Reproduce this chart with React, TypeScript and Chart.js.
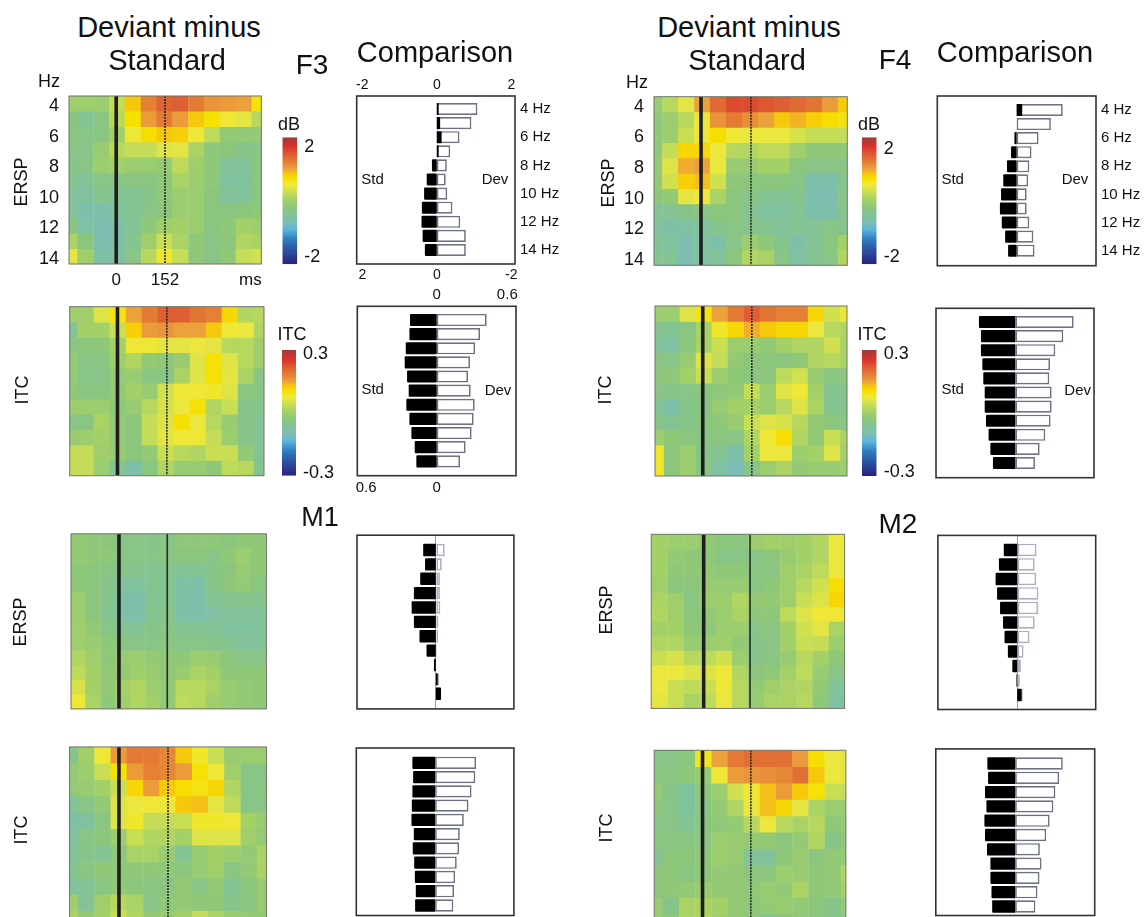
import React, { useEffect, useRef } from "react";
import { Chart, registerables } from "chart.js";

Chart.register(...registerables);

// ---------- colour scale: position on the bar (-100 bottom .. 100 top) and colour ----------
const scalePositions = [100, 85, 72, 60, 50, 42, 35, 25, 12, 2, -10, -25, -35, -45, -60, -80, -100];
const scaleColours = ["#9c3a3a", "#d9332c", "#df5e33", "#e58034", "#eca23a", "#f6c80c", "#f6e000", "#eee83c", "#c4dc58", "#a4d068", "#8cc67c", "#7fc2a0", "#7cbcb8", "#5cb6dc", "#2f80c0", "#2c4c9c", "#2a2080"];

// ---------- heat maps: frequencies and column times ----------
const hz11 = [4, 5, 6, 7, 8, 9, 10, 11, 12, 13, 14];
const hz12 = [4, 5, 6, 7, 8, 9, 10, 11, 12, 13, 14, 15];
const f3ErspTimes = [-145, -96, -46, 3, 52, 102, 151, 200, 250, 299, 348, 398, 447];
const f3ItcTimes = [-146, -97, -48, 1, 51, 100, 149, 199, 248, 297, 346, 396, 445];
const f4ErspTimes = [-142, -93, -45, 4, 52, 101, 150, 198, 247, 295, 344, 393, 441];
const f4ItcTimes = [-145, -95, -46, 4, 53, 103, 153, 202, 252, 302, 351, 401, 451];
const m1ErspTimes = [-129, -82, -34, 13, 60, 108, 155, 202, 249, 297, 344, 391, 439];
const m2ErspTimes = [-145, -92, -39, 14, 67, 120, 172, 225, 278, 331, 384, 437];
const m1ItcTimes = [-151, -101, -50, 0, 50, 101, 151, 201, 252, 302, 352, 403, 453];
const m2ItcTimes = [-150, -99, -48, 3, 54, 105, 155, 206, 257, 308, 359, 410, 461];

// Cell values, in percent of the colour-scale maximum (2 dB or 0.3 ITC)
const f3Ersp = [
  [0, 0, -2, 12, 42, 60, 70, 72, 62, 54, 52, 50, 33],
  [-12, -20, -12, 8, 35, 52, 62, 52, 42, 35, 26, 22, 8],
  [-12, -14, -12, 0, 26, 36, 42, 40, 26, 10, -6, -6, -6],
  [-14, -14, -4, 8, 12, 12, 20, 22, 4, -8, -10, -16, -14],
  [-16, -14, -2, 2, -3, -3, -5, 10, 0, -8, -22, -22, -10],
  [-18, -22, -14, -14, -12, -12, -8, 4, -2, -8, -24, -24, -12],
  [-22, -24, -18, -20, -20, -16, -8, -2, -2, -10, -22, -22, -12],
  [-22, -30, -30, -24, -20, -14, -10, -2, -2, -10, -12, -10, -8],
  [-12, -26, -32, -28, -20, -8, 0, 2, -2, -12, -8, 2, -2],
  [4, -10, -32, -28, -18, 0, 14, 4, -8, -14, -10, 6, 4],
  [22, 0, -28, -26, -14, 8, 28, 12, -8, -14, -8, 12, 16],
];
const f3Itc = [
  [0, 0, 20, 32, 50, 62, 72, 72, 64, 60, 38, 6, 8],
  [-20, 2, 2, 14, 40, 52, 54, 50, 50, 42, 26, 24, 6],
  [-12, -10, -8, 2, 26, 26, 22, 22, 24, 22, 8, 8, 0],
  [-6, -14, -12, 0, 6, -6, -8, -4, 20, 34, 20, 8, 0],
  [-6, -14, -14, -6, -4, -12, -14, 4, 20, 34, 22, 4, -14],
  [-8, -12, -12, -6, 2, -4, 16, 26, 26, 28, 20, -10, -14],
  [-2, -2, -2, -8, -4, 8, 18, 24, 34, 6, 14, -16, -18],
  [-14, -12, 4, -6, -10, 12, 20, 35, 24, 8, -4, -16, -20],
  [-4, -2, 2, -6, -10, 12, 22, 26, 26, 12, -2, -16, -20],
  [12, 12, 0, -4, -10, -6, 14, 8, 6, 14, 14, -6, -20],
  [12, 12, -2, -20, -28, -12, 6, -4, -4, -8, 10, 8, -18],
];
const f4Ersp = [
  [-4, 8, 22, 50, 68, 78, 78, 74, 72, 68, 64, 52, 42],
  [-8, -2, 8, 26, 54, 62, 56, 50, 42, 46, 40, 36, 32],
  [-8, -2, 14, 26, 36, 26, 24, 24, 24, 18, 12, 12, 12],
  [-8, 12, 38, 38, 24, 8, 6, 10, 10, 0, -8, -8, -8],
  [-6, 20, 48, 50, 24, -4, -4, 2, 2, -10, -14, -14, -12],
  [-6, 16, 40, 44, 16, -8, -10, -10, -10, -14, -30, -30, -16],
  [-10, -6, 22, 26, 4, -10, -14, -20, -20, -18, -32, -32, -14],
  [-20, -20, -16, -14, -10, -10, -18, -24, -24, -20, -30, -30, -16],
  [-22, -28, -26, -24, -18, -14, -16, -18, -22, -20, -20, -14, -16],
  [-20, -24, -32, -24, -28, -14, -2, -8, -18, -28, -20, -12, 2],
  [-18, -20, -32, -26, -22, -10, 6, 4, -14, -26, -20, -14, 6],
];
const f4Itc = [
  [-2, -2, 20, 32, 50, 62, 72, 64, 60, 60, 38, 16, 26],
  [-18, -20, -12, 4, 28, 38, 48, 42, 38, 38, 24, 8, 6],
  [-22, -26, -10, 4, 14, -2, -4, -6, 2, 6, 6, 16, 4],
  [-12, -14, -4, 20, 12, -6, -10, -10, -10, -8, 6, 8, 4],
  [-10, -8, 2, 14, -2, -8, -12, -10, 10, 16, -4, -12, -12],
  [-14, -16, -14, -12, -8, -6, 12, -2, 20, 26, 2, -18, -18],
  [-20, -30, -16, -14, -4, 2, 2, -2, 8, 20, 4, -18, -18],
  [-16, -20, -16, -12, -8, -4, 14, 20, 18, 8, -6, -10, -14],
  [-2, -8, -10, -14, -12, -14, 6, 26, 36, 6, -6, 14, 4],
  [28, -10, -2, -16, -20, -30, 2, 24, 24, -2, 2, 20, 2],
  [28, -10, -2, -14, -26, -34, -16, -2, 4, -6, -4, -4, -2],
];
const m1Ersp = [
  [-6, -8, -10, -14, -14, -16, -14, -8, -8, -8, -10, -8, -8],
  [-6, -8, -8, -14, -14, -14, -12, -10, -10, -14, -8, -2, -8],
  [-8, -10, -14, -16, -18, -20, -18, -20, -20, -16, -10, -4, -8],
  [-8, -10, -16, -24, -24, -18, -18, -28, -28, -16, -10, -6, -12],
  [-2, -10, -16, -28, -30, -20, -18, -28, -30, -20, -18, -18, -18],
  [-2, -10, -18, -28, -30, -18, -16, -28, -30, -26, -22, -22, -22],
  [0, -6, -14, -20, -20, -16, -14, -20, -20, -20, -24, -24, -22],
  [0, -4, -8, -12, -14, -14, -12, -14, -14, -16, -18, -22, -22],
  [6, 0, -8, -4, -2, -6, -8, -8, -2, -4, -10, -14, -14],
  [10, 2, -6, -6, 0, -4, -8, -4, 4, 2, -8, -8, -8],
  [18, 2, -6, 2, 6, -2, -6, 8, 8, 4, -4, -6, -8],
  [26, 4, -8, 0, 6, 2, -6, 10, 8, 0, -4, -6, -8],
];
const m2Ersp = [
  [2, -2, -2, -6, -10, -12, -2, 2, 0, 2, 6, 24],
  [2, -6, -8, -8, -14, -14, -14, -10, -4, 2, 6, 24],
  [2, -8, -8, -6, -8, -8, -12, -12, 0, 4, 10, 24],
  [0, -10, -10, -4, -4, -4, -12, -8, 0, 8, 16, 36],
  [4, 0, -12, -2, -2, 6, -6, -6, 0, 14, 20, 38],
  [6, 0, -10, -6, -2, 4, -8, -8, 10, 20, 26, 26],
  [2, 2, -8, -8, -2, -2, -14, -12, 2, 16, 22, 4],
  [6, 6, -4, -2, 0, -6, -16, -14, 2, 14, 12, -2],
  [14, 18, 8, 10, 16, -2, -16, -12, -4, 8, 2, -8],
  [24, 24, 20, 20, 26, 6, -10, -8, 2, 10, -4, -14],
  [24, 14, 10, 14, 26, 8, -6, 0, 4, 6, -6, -22],
  [22, 14, 4, 10, 24, 8, -4, 4, 4, 8, -8, -26],
];
const m1Itc = [
  [-18, 0, 26, 52, 62, 62, 58, 42, 28, 14, -4, -2, -2],
  [-6, -2, 14, 34, 52, 60, 58, 52, 34, 26, 0, -14, -14],
  [-6, -4, 2, 14, 38, 52, 42, 36, 32, 38, 6, -14, -12],
  [-22, -14, -6, 20, 24, 26, 26, 42, 44, 22, 10, -14, -14],
  [-28, -24, -12, 20, 28, 12, 12, 14, 28, 28, 26, 2, -4],
  [-26, -14, -10, -2, 14, 6, 6, 2, 20, 20, 20, 0, -6],
  [-22, -16, -20, -8, 4, 4, -4, -20, -4, 2, -2, -6, 4],
  [-18, -12, -8, -8, -8, -8, -8, -10, -4, 0, -12, -6, 4],
  [-22, -22, -12, -8, -10, -12, -12, -6, -14, -6, -20, -10, -4],
  [0, -20, 0, 8, 4, -14, -8, -6, -8, -8, -16, -12, -4],
  [4, -6, 2, 14, 6, -6, -4, 0, 12, 4, -4, -6, -6],
];
const m2Itc = [
  [-14, -14, -10, 30, 50, 62, 66, 66, 66, 52, 36, 24, 22],
  [-12, -12, -8, -4, 26, 52, 54, 56, 58, 66, 42, 24, 22],
  [-6, -16, -24, -10, -2, 16, 26, 44, 52, 42, 34, 14, 12],
  [-10, -14, -24, -12, -6, 6, 24, 44, 38, 22, 4, -2, -4],
  [-12, -14, -20, -12, -8, -6, 8, 24, 8, 4, 8, -8, -6],
  [-12, -12, -12, -12, -2, -4, -6, -6, -10, -6, 6, -16, -8],
  [-20, -8, -10, -8, -2, -4, -22, -22, -8, -4, -10, -6, -6],
  [-10, -8, -12, -10, -6, -6, -10, -10, -2, -4, -8, -6, 6],
  [-10, -8, -6, -4, -6, -6, -8, -4, -6, 4, -8, -6, 2],
  [-4, -16, 4, 4, 2, -6, -8, -6, -4, -6, -10, -16, -6],
  [-4, -8, 6, 6, -2, -6, -14, -22, -12, -8, -10, -16, -14],
];

// ---------- comparison bars ----------
const compHz = [4, 5, 6, 7, 8, 9, 10, 11, 12, 13, 14];
const f3ErspDev = [1.09, 0.93, 0.61, 0.36, 0.27, 0.24, 0.28, 0.42, 0.63, 0.78, 0.78];
const f3ErspStd = [-0.05, -0.09, -0.13, -0.05, 0.13, 0.27, 0.34, 0.4, 0.41, 0.38, 0.32];
const f3ItcDev = [0.425, 0.368, 0.326, 0.283, 0.266, 0.289, 0.323, 0.314, 0.297, 0.246, 0.198];
const f3ItcStd = [0.227, 0.232, 0.263, 0.272, 0.252, 0.238, 0.258, 0.232, 0.215, 0.187, 0.173];
const f4ErspDev = [1.24, 0.92, 0.59, 0.4, 0.34, 0.31, 0.27, 0.27, 0.34, 0.45, 0.48];
const f4ErspStd = [-0.15, 0, 0.06, 0.15, 0.26, 0.36, 0.42, 0.45, 0.4, 0.31, 0.23];
const f4ItcDev = [0.496, 0.408, 0.34, 0.295, 0.289, 0.309, 0.309, 0.3, 0.255, 0.207, 0.167];
const f4ItcStd = [0.309, 0.292, 0.292, 0.28, 0.272, 0.26, 0.26, 0.249, 0.227, 0.212, 0.19];
const m1ErspDev = [0.24, 0.16, 0.11, 0.11, 0.12, 0.07, 0.06, 0.03, 0.02, 0.09, 0.14];
const m1ErspStd = [0.34, 0.29, 0.42, 0.59, 0.65, 0.59, 0.44, 0.25, 0.05, -0.05, -0.14];
const m2ErspDev = [0.52, 0.47, 0.51, 0.57, 0.56, 0.47, 0.33, 0.17, 0.1, 0.07, 0.15];
const m2ErspStd = [0.36, 0.49, 0.58, 0.54, 0.46, 0.38, 0.34, 0.25, 0.13, 0.02, -0.12];
const m1ItcDev = [0.348, 0.342, 0.31, 0.284, 0.244, 0.21, 0.204, 0.184, 0.17, 0.161, 0.155];
const m1ItcStd = [0.193, 0.187, 0.193, 0.198, 0.201, 0.181, 0.19, 0.178, 0.172, 0.164, 0.17];
const m2ItcDev = [0.405, 0.374, 0.342, 0.325, 0.293, 0.264, 0.21, 0.224, 0.207, 0.19, 0.172];
const m2ItcStd = [0.236, 0.23, 0.256, 0.244, 0.261, 0.256, 0.239, 0.21, 0.21, 0.201, 0.195];

const ersp_top_ticks = [-2, 0, 2];
const ersp_bottom_ticks = [2, 0, -2];
const itc_top_ticks = [0, 0.6];
const itc_bottom_ticks = [0.6, 0];
const hz_ticks = [4, 6, 8, 10, 12, 14];
const time_ticks = [0, 152, 418];

// ---------- layout ----------
const FONT = '"Liberation Sans", Arial, sans-serif';
const INK = "#111111";

const heatPanels = [
  { label: "F3 ERSP", rows: f3Ersp, hz: hz11, times: f3ErspTimes, rect: [69, 264, 96, 264], range: [-147, 452], yTicks: true, xTicks: true },
  { label: "F3 ITC", rows: f3Itc, hz: hz11, times: f3ItcTimes, rect: [69.7, 264, 306.7, 475.7], range: [-147, 451] },
  { label: "F4 ERSP", rows: f4Ersp, hz: hz11, times: f4ErspTimes, rect: [654, 847.3, 96.7, 265.3], range: [-143, 445], yTicks: true },
  { label: "F4 ITC", rows: f4Itc, hz: hz11, times: f4ItcTimes, rect: [655, 847, 306, 476], range: [-148, 447] },
  { label: "M1 ERSP", rows: m1Ersp, hz: hz12, times: m1ErspTimes, rect: [71, 266.4, 533.8, 708.9], range: [-151, 464], solid: true },
  { label: "M2 ERSP", rows: m2Ersp, hz: hz12, times: m2ErspTimes, rect: [651.2, 844.6, 534.3, 708.4], range: [-172, 462], solid: true },
  { label: "M1 ITC", rows: m1Itc, hz: hz11, times: m1ItcTimes, rect: [69.6, 266.4, 746.9, 927], range: [-153, 457] },
  { label: "M2 ITC", rows: m2Itc, hz: hz11, times: m2ItcTimes, rect: [654.2, 845.9, 750.3, 930.5], range: [-152, 451] },
];

const compPanels = [
  { label: "F3 ERSP", dev: f3ErspDev, std: f3ErspStd, rect: [356.7, 515, 96, 264], rows: [109, 250], range: [-2.15, 2.1], top: ersp_top_ticks, bottom: ersp_bottom_ticks, hzLabels: true, font: 14 },
  { label: "F3 ITC", dev: f3ItcDev, std: f3ItcStd, rect: [357.3, 516, 306.3, 475.7], rows: [320, 461.3], range: [-0.675, 0.674], top: itc_top_ticks, bottom: itc_bottom_ticks, font: 15 },
  { label: "F4 ERSP", dev: f4ErspDev, std: f4ErspStd, rect: [937.3, 1096, 96, 265.7], rows: [110, 250.7], range: [-2.134, 2.134], hzLabels: true, font: 14 },
  { label: "F4 ITC", dev: f4ItcDev, std: f4ItcStd, rect: [936, 1094, 308.3, 477.7], rows: [322, 463], range: [-0.674, 0.669], font: 15 },
  { label: "M1 ERSP", dev: m1ErspDev, std: m1ErspStd, rect: [357, 513.9, 535.2, 708.9], rows: [550, 693.7], range: [-2.12, 2.1], zero: true, pale: true, font: 14 },
  { label: "M2 ERSP", dev: m2ErspDev, std: m2ErspStd, rect: [937.9, 1095.7, 535.4, 709.5], rows: [549.9, 694.9], range: [-2.13, 2.11], zero: true, pale: true, font: 14 },
  { label: "M1 ITC", dev: m1ItcDev, std: m1ItcStd, rect: [356.3, 513.9, 748, 915.5], rows: [762.8, 905.5], range: [-0.67, 0.67], font: 15 },
  { label: "M2 ITC", dev: m2ItcDev, std: m2ItcStd, rect: [935.8, 1094.7, 748.9, 915.5], rows: [763.5, 906.5], range: [-0.674, 0.676], font: 15 },
];

const barPanels = [
  { rect: [282.3, 297.3, 137.3, 264.3], range: [-2.27, 2.35], ticks: [-2, 2] },
  { rect: [861.7, 876.7, 137.3, 264.3], range: [-2.27, 2.42], ticks: [-2, 2] },
  { rect: [282, 296, 350, 475.7], range: [-0.316, 0.319], ticks: [-0.3, 0.3] },
  { rect: [862, 876.7, 350, 476], range: [-0.319, 0.322], ticks: [-0.3, 0.3] },
];

const texts = [
  { t: "Deviant minus", x: 169, y: 27, s: 29 }, { t: "Standard", x: 167, y: 60, s: 29 },
  { t: "F3", x: 312, y: 65, s: 28 }, { t: "Comparison", x: 435, y: 52, s: 29 },
  { t: "Deviant minus", x: 749, y: 27, s: 29 }, { t: "Standard", x: 747, y: 60, s: 29 },
  { t: "F4", x: 895, y: 60, s: 28 }, { t: "Comparison", x: 1015, y: 52, s: 29 },
  { t: "Hz", x: 49, y: 81, s: 18 }, { t: "Hz", x: 637, y: 82, s: 18 },
  { t: "M1", x: 320, y: 517, s: 27 }, { t: "M2", x: 898, y: 524, s: 28 },
  { t: "dB", x: 289, y: 124, s: 18 }, { t: "dB", x: 869, y: 124, s: 18 },
  { t: "ITC", x: 292, y: 334, s: 18 }, { t: "ITC", x: 872, y: 334, s: 18 },
  { t: "ERSP", x: 21, y: 182, s: 18, r: true }, { t: "ERSP", x: 608, y: 183, s: 18, r: true },
  { t: "ITC", x: 22, y: 390, s: 18, r: true }, { t: "ITC", x: 605, y: 390, s: 18, r: true },
  { t: "ERSP", x: 20, y: 622, s: 18, r: true }, { t: "ERSP", x: 606, y: 610, s: 18, r: true },
  { t: "ITC", x: 21, y: 830, s: 18, r: true }, { t: "ITC", x: 606, y: 828, s: 18, r: true },
  { t: "Std", x: 372.5, y: 178, s: 15 }, { t: "Dev", x: 495, y: 178, s: 15 },
  { t: "Std", x: 372.7, y: 388, s: 15 }, { t: "Dev", x: 498, y: 389, s: 15 },
  { t: "Std", x: 952.7, y: 178, s: 15 }, { t: "Dev", x: 1075, y: 178, s: 15 },
  { t: "Std", x: 952.7, y: 388, s: 15 }, { t: "Dev", x: 1077.7, y: 389, s: 15 },
];

// ---------- helpers ----------
function hexToRgb(h: string) {
  return [parseInt(h.slice(1, 3), 16), parseInt(h.slice(3, 5), 16), parseInt(h.slice(5, 7), 16)];
}
function colourOf(p: number) {
  for (let i = 0; i < scalePositions.length - 1; i++) {
    const a = scalePositions[i], b = scalePositions[i + 1];
    if (p <= a && p >= b) {
      const f = (a - p) / (a - b);
      const ca = hexToRgb(scaleColours[i]), cb = hexToRgb(scaleColours[i + 1]);
      const m = ca.map((v, k) => Math.round(v + (cb[k] - v) * f));
      return `rgb(${m[0]},${m[1]},${m[2]})`;
    }
  }
  return scaleColours[scaleColours.length - 1];
}
const fixedHeight = (h: number) => (s: any) => { s.height = h; };
const fixedWidth = (w: number) => (s: any) => { s.width = w; };
const setTicks = (vals: number[]) => (s: any) => { s.ticks = vals.map((value) => ({ value })); };
const boxPlugin = (colour: string, width: number) => ({
  id: "box",
  afterDraw(chart: any) {
    const { ctx, chartArea: a } = chart;
    ctx.save();
    ctx.strokeStyle = colour;
    ctx.lineWidth = width;
    ctx.strokeRect(a.left, a.top, a.right - a.left, a.bottom - a.top);
    ctx.restore();
  },
});

// Works out a canvas frame around a plot rectangle so the plot area lands exactly on it.
function frame(rect: number[], m: { l: number; r: number; t: number; b: number }) {
  const left = Math.floor(rect[0]) - m.l;
  const top = Math.floor(rect[2]) - m.t;
  const width = Math.ceil(rect[1]) + m.r - left;
  const height = Math.ceil(rect[3]) + m.b - top;
  return {
    left, top, width, height,
    pad: { left: rect[0] - left, right: left + width - rect[1], top: rect[2] - top, bottom: top + height - rect[3] },
  };
}

const baseOptions = {
  responsive: false,
  animation: false as const,
  events: [] as string[],
  plugins: { legend: { display: false }, tooltip: { enabled: false }, title: { display: false } },
};

function heatConfig(p: any, f: any) {
  const lo = p.hz[0] - 0.5, hi = p.hz[p.hz.length - 1] + 0.5;
  const cells = p.rows.map((row: number[], r: number) => ({
    type: "bar",
    label: `${p.label} ${p.hz[r]} Hz`,
    data: row.map((_: number, c: number) => ({ x: p.times[c], y: [p.hz[r] - 0.5, p.hz[r] + 0.5] })),
    backgroundColor: row.map((v: number) => colourOf(v)),
    borderWidth: 0,
    grouped: false,
    barPercentage: 1,
    categoryPercentage: 1,
    order: 5,
  }));
  const zero = { type: "line", label: "0 ms", data: [{ x: 0, y: lo }, { x: 0, y: hi }], borderColor: "#1e1e1e", borderWidth: 3.6, pointRadius: 0, order: -2 };
  const dev = { type: "line", label: "152 ms", data: [{ x: 152, y: lo }, { x: 152, y: hi }], borderColor: "#2a2a2a", borderWidth: 1.6, borderDash: p.solid ? [] : [2, 1], pointRadius: 0, order: -1 };
  return {
    type: "bar",
    data: { datasets: [...cells, zero, dev] },
    options: {
      ...baseOptions,
      layout: { padding: { top: f.pad.top, right: f.pad.right } },
      scales: {
        x: {
          type: "linear", offset: false, min: p.range[0], max: p.range[1],
          grid: { display: false, drawTicks: false }, border: { display: false },
          afterFit: fixedHeight(f.pad.bottom),
          afterBuildTicks: setTicks(time_ticks),
          ticks: {
            display: !!p.xTicks, autoSkip: false, maxRotation: 0, padding: 6, color: INK,
            font: { family: FONT, size: 17 },
            callback: (v: number) => (v === time_ticks[2] ? "ms" : String(v)),
          },
        },
        y: {
          type: "linear", reverse: true, min: lo, max: hi,
          grid: { display: false, drawTicks: false }, border: { display: false },
          afterFit: fixedWidth(f.pad.left),
          afterBuildTicks: setTicks(hz_ticks),
          ticks: {
            display: !!p.yTicks, autoSkip: false, padding: 10, color: INK, labelOffset: 2.5,
            font: { family: FONT, size: 18 },
            callback: (v: number) => String(v),
          },
        },
      },
    },
    plugins: [boxPlugin("#6f7568", 1)],
  };
}

function compConfig(p: any, f: any) {
  const pitch = (p.rows[1] - p.rows[0]) / (compHz[compHz.length - 1] - compHz[0]);
  const lo = compHz[0] - (p.rows[0] - p.rect[2]) / pitch;
  const hi = compHz[compHz.length - 1] + (p.rect[3] - p.rows[1]) / pitch;
  const edge = p.pale ? "#a9aebf" : "#6c7284";
  return {
    type: "bar",
    data: {
      labels: compHz,
      datasets: [
        { label: "Std", data: compHz.map((h, i) => ({ y: h, x: p.std[i] })), xAxisID: "xStd", yAxisID: "y", backgroundColor: "#000", borderWidth: 0, borderRadius: 1, grouped: false, barPercentage: 0.86, categoryPercentage: 1 },
        { label: "Dev", data: compHz.map((h, i) => ({ y: h, x: p.dev[i] })), xAxisID: "xDev", yAxisID: "y", backgroundColor: "#fff", borderColor: edge, borderWidth: 1.7, borderSkipped: false, grouped: false, barPercentage: 0.86, categoryPercentage: 1 },
      ],
    },
    options: {
      ...baseOptions,
      indexAxis: "y",
      layout: { padding: { left: f.pad.left } },
      scales: {
        xDev: {
          type: "linear", axis: "x", position: "top", min: p.range[0], max: p.range[1],
          grid: { display: !!p.zero, drawTicks: false, color: "#9aa0b4" }, border: { display: false },
          afterFit: fixedHeight(f.pad.top),
          afterBuildTicks: setTicks(p.top || [0]),
          ticks: { display: !!p.top, autoSkip: false, maxRotation: 0, padding: 2, color: INK, font: { family: FONT, size: p.font }, callback: (v: number) => String(v) },
        },
        xStd: {
          type: "linear", axis: "x", position: "bottom", reverse: true, min: -p.range[1], max: -p.range[0],
          grid: { display: false, drawTicks: false }, border: { display: false },
          afterFit: fixedHeight(f.pad.bottom),
          afterBuildTicks: setTicks(p.bottom || [0]),
          ticks: { display: !!p.bottom, autoSkip: false, maxRotation: 0, padding: 3, color: INK, font: { family: FONT, size: p.font }, callback: (v: number) => String(v) },
        },
        y: {
          type: "linear", position: "right", reverse: true, offset: false, min: lo, max: hi,
          grid: { display: false, drawTicks: false }, border: { display: false },
          afterFit: fixedWidth(f.pad.right),
          afterBuildTicks: setTicks(hz_ticks),
          ticks: { display: !!p.hzLabels, autoSkip: false, padding: 5, color: INK, font: { family: FONT, size: 15 }, callback: (v: number) => `${v} Hz` },
        },
      },
    },
    plugins: [boxPlugin("#333", 1.6)],
  };
}

function barConfig(p: any, f: any) {
  return {
    type: "bar",
    data: {
      labels: ["scale"],
      datasets: [{
        label: "colour scale",
        data: [[p.range[0], p.range[1]]],
        barPercentage: 1,
        categoryPercentage: 1,
        inflateAmount: 0,
        borderWidth: 0,
        backgroundColor: (c: any) => {
          const a = c.chart.chartArea;
          if (!a) return "#888";
          const g = c.chart.ctx.createLinearGradient(0, a.top, 0, a.bottom);
          scalePositions.forEach((s, i) => g.addColorStop((100 - s) / 200, scaleColours[i]));
          return g;
        },
      }],
    },
    options: {
      ...baseOptions,
      layout: { padding: { left: f.pad.left, top: f.pad.top, bottom: f.pad.bottom } },
      scales: {
        x: { display: false, offset: true },
        y: {
          position: "right", min: p.range[0], max: p.range[1],
          grid: { display: false, drawTicks: false }, border: { display: false },
          afterFit: fixedWidth(f.pad.right),
          afterBuildTicks: setTicks(p.ticks),
          ticks: { autoSkip: false, padding: 7, color: INK, font: { family: FONT, size: 18 }, callback: (v: number) => String(v) },
        },
      },
    },
  };
}

function Plot({ f, make }: { f: any; make: () => any }) {
  const ref = useRef<HTMLCanvasElement | null>(null);
  useEffect(() => {
    const chart = new Chart(ref.current as HTMLCanvasElement, make());
    return () => chart.destroy();
  }, []);
  return (
    <canvas
      ref={ref}
      width={f.width}
      height={f.height}
      style={{ position: "absolute", left: f.left, top: f.top, width: f.width, height: f.height }}
    />
  );
}

export default function App() {
  return (
    <div style={{ position: "fixed", left: 0, top: 0, width: 1146, height: 917, overflow: "hidden", background: "#fff", filter: "blur(0.55px)" }}>
      {heatPanels.map((p) => {
        const f = frame(p.rect, { l: 42, r: 4, t: 24, b: 28 });
        return <Plot key={"h" + p.label} f={f} make={() => heatConfig(p, f)} />;
      })}
      {compPanels.map((p) => {
        const f = frame(p.rect, { l: 14, r: 56, t: 24, b: 24 });
        return <Plot key={"c" + p.label} f={f} make={() => compConfig(p, f)} />;
      })}
      {barPanels.map((p, i) => {
        const f = frame(p.rect, { l: 2, r: 46, t: 24, b: 24 });
        return <Plot key={"b" + i} f={f} make={() => barConfig(p, f)} />;
      })}
      {texts.map((x, i) => (
        <span
          key={i}
          style={{
            position: "absolute", left: x.x, top: x.y, whiteSpace: "nowrap", color: INK,
            fontFamily: FONT, fontSize: x.s, lineHeight: 1,
            transform: `translate(-50%,-50%)${x.r ? " rotate(-90deg)" : ""}`,
          }}
        >
          {x.t}
        </span>
      ))}
    </div>
  );
}
